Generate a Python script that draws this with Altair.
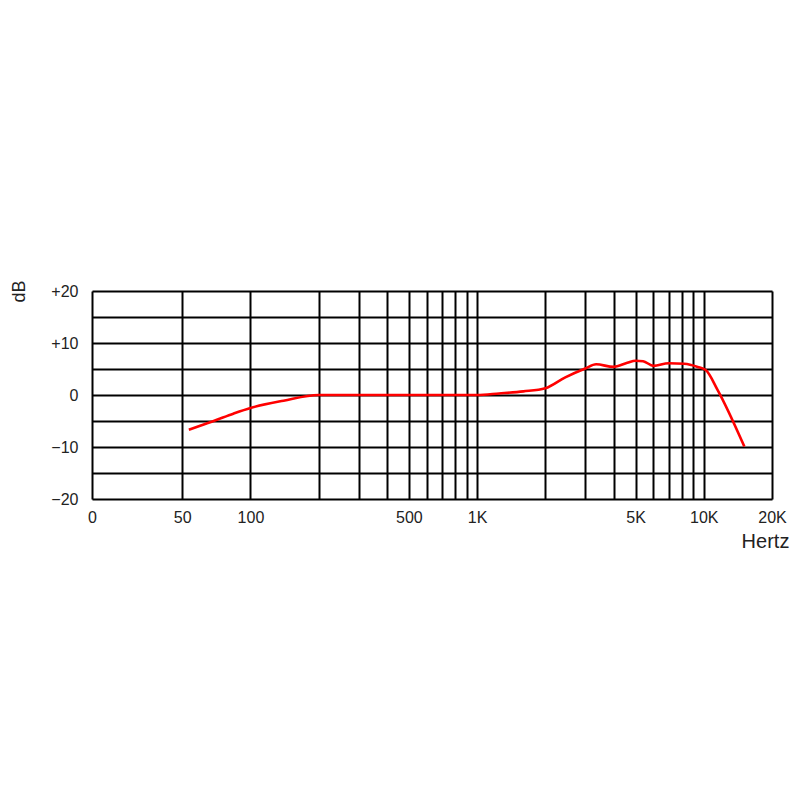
import altair as alt
import pandas as pd

# Frequency response curve (Hz, dB)
freq = [53.5, 60, 68.8, 84, 100, 140, 200, 300, 500, 800, 1000, 1250, 1600, 2000, 2450,
        3000, 3350, 4000, 4600, 5000, 5400, 6000, 7000, 8200, 9400, 10200, 11500, 15100]
db = [-6.7, -5.9, -5.0, -3.6, -2.5, -1.1, 0.0, 0.0, 0.0, 0.0, 0.0, 0.3, 0.7, 1.3, 3.4,
      5.1, 5.9, 5.4, 6.2, 6.6, 6.5, 5.6, 6.1, 6.0, 5.4, 4.8, 1.0, -9.9]

x_grid = [20, 50, 100, 200, 300, 400, 500, 600, 700, 800, 900, 1000,
          2000, 3000, 4000, 5000, 6000, 7000, 8000, 9000, 10000, 20000]
x_labels = {20: "0", 50: "50", 100: "100", 500: "500", 1000: "1K",
            5000: "5K", 10000: "10K", 20000: "20K"}
y_grid = [-20, -15, -10, -5, 0, 5, 10, 15, 20]
y_labels = {20: "+20", 10: "+10", 0: "0", -10: "\u221210", -20: "\u221220"}


def label_expr(mapping):
    expr = "''"
    for k, v in mapping.items():
        expr = f"datum.value == {k} ? '{v}' : " + expr
    return expr


df = pd.DataFrame({"freq": freq, "db": db})

FONT = "Liberation Sans"

chart = alt.Chart(df).mark_line(color="#ff0000", strokeWidth=2.6, interpolate="monotone").encode(
    x=alt.X("freq:Q",
            scale=alt.Scale(type="log", domain=[20, 20000], nice=False),
            axis=alt.Axis(values=x_grid, labelExpr=label_expr(x_labels), title="Hertz",
                          grid=True, gridColor="black", gridWidth=2, gridOpacity=1,
                          ticks=False, domain=False, labelOverlap=False, labelFlush=False,
                          labelFont=FONT, labelFontSize=16, labelColor="#222",
                          labelPadding=10,
                          titleFont=FONT, titleFontSize=20, titleFontWeight="normal",
                          titleColor="#222", titleX=673, titleY=42, titleAlign="center",
                          titleBaseline="middle")),
    y=alt.Y("db:Q",
            scale=alt.Scale(domain=[-20, 20], nice=False),
            axis=alt.Axis(values=y_grid, labelExpr=label_expr(y_labels), title="dB",
                          grid=True, gridColor="black", gridWidth=2, gridOpacity=1,
                          ticks=False, domain=False, labelOverlap=False, labelFlush=False,
                          labelFont=FONT, labelFontSize=16, labelColor="#222",
                          labelPadding=14,
                          titleFont=FONT, titleFontSize=18, titleFontWeight="normal",
                          titleColor="#222", titleAngle=-90, titleX=-73, titleY=0,
                          titleAlign="center", titleBaseline="middle")),
).properties(
    width=680, height=208,
    autosize=alt.AutoSizeParams(type="none"),
    padding={"left": 84, "top": 283, "right": 20, "bottom": 200},
).configure_view(
    stroke="black", strokeWidth=2
).configure(background="white")

chart.save("out.html", embed_options={"renderer": "svg", "actions": False})
